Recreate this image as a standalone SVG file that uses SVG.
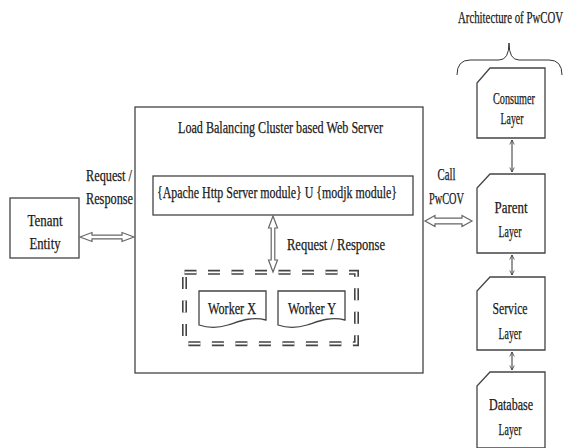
<svg xmlns="http://www.w3.org/2000/svg" width="566" height="448" viewBox="0 0 566 448">
<style>
text{font-family:"Liberation Serif","Times New Roman",serif;font-size:16px;fill:#1a1a1a;stroke:#1a1a1a;stroke-width:0.25}
.box{fill:#fff;stroke:#444;stroke-width:1.3}
.dbl{fill:#fff;stroke:#666;stroke-width:1.2}
.thin{stroke:#333;stroke-width:1;fill:none}
</style>
<defs>
<marker id="ah" viewBox="0 0 8 8" refX="7" refY="4" markerWidth="6" markerHeight="6" orient="auto-start-reverse" markerUnits="userSpaceOnUse">
<path d="M1,1 L7,4 L1,7" fill="none" stroke="#333" stroke-width="1"/>
</marker>
</defs>
<rect width="566" height="448" fill="#fff"/>

<g id="tenant">
<rect class="box" x="10" y="198" width="69" height="60"/>
<text x="45" y="226" text-anchor="middle" textLength="35" lengthAdjust="spacingAndGlyphs">Tenant</text>
<text x="45" y="249" text-anchor="middle" textLength="31" lengthAdjust="spacingAndGlyphs">Entity</text>
</g>

<g id="server">
<rect class="box" x="135" y="107" width="288" height="266"/>
<text x="280.5" y="133" text-anchor="middle" textLength="205" lengthAdjust="spacingAndGlyphs">Load Balancing Cluster based Web Server</text>
</g>

<g id="module">
<rect class="box" x="153" y="176" width="260" height="39"/>
<text x="277" y="198" text-anchor="middle" textLength="240" lengthAdjust="spacingAndGlyphs">{Apache Http Server module}  U {modjk module}</text>
</g>

<g id="workers">
<rect x="184.5" y="272.3" width="172" height="71.4" fill="none" stroke="#444" stroke-width="5" stroke-dasharray="12 11.5"/>
<rect x="184.5" y="272.3" width="172" height="71.4" fill="none" stroke="#fff" stroke-width="1.8" stroke-dasharray="12 11.5"/>
<g id="workerX">
<path class="box" d="M199,291 L266,291 L266,320 C250,316 238,322 228,325 C218,328 208,328 199,325 Z"/>
<text x="232" y="314" text-anchor="middle" textLength="48" lengthAdjust="spacingAndGlyphs">Worker X</text>
</g>
<g id="workerY">
<path class="box" d="M278,291 L345,291 L345,320 C329,316 317,322 307,325 C297,328 287,328 278,325 Z"/>
<text x="312" y="314" text-anchor="middle" textLength="48" lengthAdjust="spacingAndGlyphs">Worker Y</text>
</g>
</g>

<g id="pwcov-title">
<text x="510.5" y="23" text-anchor="middle" textLength="105" lengthAdjust="spacingAndGlyphs">Architecture of PwCOV</text>
<path class="thin" d="M457,75 Q457,60 470,60 L499,60 Q509,60 509,43 Q509,60 519,60 L549,60 Q562,60 562,75" stroke-width="1.2"/>
</g>

<g id="consumer">
<path class="box" d="M490,68 L545,68 L545,138 L477,138 L477,83 Z"/>
<text x="514" y="104" text-anchor="middle" textLength="42" lengthAdjust="spacingAndGlyphs">Consumer</text>
<text x="512" y="124" text-anchor="middle" textLength="23" lengthAdjust="spacingAndGlyphs">Layer</text>
</g>
<g id="parent">
<path class="box" d="M490,174 L545,174 L545,253 L477,253 L477,188 Z"/>
<text x="511" y="213" text-anchor="middle" textLength="33" lengthAdjust="spacingAndGlyphs">Parent</text>
<text x="510" y="237" text-anchor="middle" textLength="23" lengthAdjust="spacingAndGlyphs">Layer</text>
</g>
<g id="service">
<path class="box" d="M490,277 L545,277 L545,350 L477,350 L477,291 Z"/>
<text x="510" y="314" text-anchor="middle" textLength="35" lengthAdjust="spacingAndGlyphs">Service</text>
<text x="510" y="339" text-anchor="middle" textLength="23" lengthAdjust="spacingAndGlyphs">Layer</text>
</g>
<g id="database">
<path class="box" d="M490,372 L545,372 L545,448 L477,448 L477,386 Z"/>
<text x="511" y="410" text-anchor="middle" textLength="44" lengthAdjust="spacingAndGlyphs">Database</text>
<text x="510" y="435" text-anchor="middle" textLength="23" lengthAdjust="spacingAndGlyphs">Layer</text>
</g>

<g id="connectors">
<path class="dbl" d="M80,237 L92,232.5 L92,235.2 L122,235.2 L122,232.5 L134,237 L122,241.5 L122,238.8 L92,238.8 L92,241.5 Z"/>
<text x="109" y="181" text-anchor="middle" textLength="46" lengthAdjust="spacingAndGlyphs">Request /</text>
<text x="109.5" y="204" text-anchor="middle" textLength="47" lengthAdjust="spacingAndGlyphs">Response</text>
<path class="dbl" d="M425,221 L435,215.5 L435,218.2 L462,218.2 L462,215.5 L472,221 L462,226.5 L462,223.8 L435,223.8 L435,226.5 Z"/>
<text x="446.5" y="180" text-anchor="middle" textLength="18" lengthAdjust="spacingAndGlyphs">Call</text>
<text x="446.5" y="204" text-anchor="middle" textLength="35" lengthAdjust="spacingAndGlyphs">PwCOV</text>
<path class="dbl" d="M273,216 L277.5,228 L274.8,228 L274.8,260 L277.5,260 L273,272 L268.5,260 L271.2,260 L271.2,228 L268.5,228 Z"/>
<text x="336" y="250" text-anchor="middle" textLength="98" lengthAdjust="spacingAndGlyphs">Request / Response</text>
<line class="thin" x1="512" y1="140" x2="512" y2="172" marker-start="url(#ah)" marker-end="url(#ah)"/>
<line class="thin" x1="512" y1="255" x2="512" y2="275" marker-start="url(#ah)" marker-end="url(#ah)"/>
<line class="thin" x1="512" y1="352" x2="512" y2="370" marker-start="url(#ah)" marker-end="url(#ah)"/>
</g>
</svg>
